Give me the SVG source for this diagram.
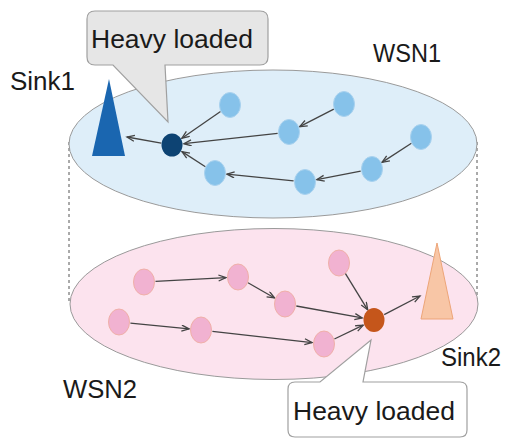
<svg xmlns="http://www.w3.org/2000/svg" width="507" height="439" viewBox="0 0 507 439">
<defs>
<marker id="arr" markerUnits="userSpaceOnUse" markerWidth="10" markerHeight="8" refX="8" refY="3.5" orient="auto">
<path d="M0.5,0.5 L8,3.5 L0.5,6.5" fill="none" stroke="#444" stroke-width="1.3"/>
</marker>
<style>
.lbl{font-family:"Liberation Sans",Arial,sans-serif;font-size:26px;fill:#1a1a1a}
.plane{stroke:#9a9a9a;stroke-width:1}
.dash{stroke:#555;stroke-width:1;stroke-dasharray:3,3;fill:none}
.b{fill:#86c2ea;stroke:#a9d2ef;stroke-width:1}
.p{fill:#f1b2d1;stroke:#f0b0a8;stroke-width:1}
.edge line{stroke:#444;stroke-width:1.3;marker-end:url(#arr)}
.call{stroke:#a0a0a0;stroke-width:1.2}
</style>
</defs>
<rect width="507" height="439" fill="#ffffff"/>
<g id="planes">
<line class="dash" x1="69" y1="142" x2="69" y2="304"/>
<line class="dash" x1="477" y1="142" x2="477" y2="304"/>
<ellipse id="wsn2-plane" class="plane" cx="274" cy="304" rx="204" ry="75.5" fill="#fce3ee"/>
<ellipse id="wsn1-plane" class="plane" cx="273" cy="144" rx="204" ry="74" fill="#deeef9"/>
</g>
<g id="callout1">
<path class="call" fill="#e6e6e6" d="M95,11 H260 Q268,11 268,19 V57 Q268,65 260,65 H165 L168,122 L113,65 H95 Q87,65 87,57 V19 Q87,11 95,11 Z"/>
<text class="lbl" x="91" y="48" font-size="28" textLength="162" lengthAdjust="spacingAndGlyphs">Heavy loaded</text>
</g>
<g id="callout2">
<path class="call" fill="#ffffff" d="M295,382 H320 L371,340 L363,382 H460 Q467,382 467,389 V430 Q467,437 460,437 H295 Q288,437 288,430 V389 Q288,382 295,382 Z"/>
<text class="lbl" x="293" y="420" font-size="28" textLength="162" lengthAdjust="spacingAndGlyphs">Heavy loaded</text>
</g>
<g id="connectors" class="edge">
<line x1="220.5" y1="111.5" x2="181.9" y2="138.2"/>
<line x1="333.8" y1="109.2" x2="299.7" y2="126.6"/>
<line x1="277.6" y1="133.3" x2="183.9" y2="143.7"/>
<line x1="411.4" y1="143.3" x2="382" y2="162.4"/>
<line x1="360.7" y1="171.2" x2="316.8" y2="179.7"/>
<line x1="293.6" y1="180.9" x2="226.9" y2="174.2"/>
<line x1="205.4" y1="166.7" x2="182" y2="151.6"/>
<line x1="161.2" y1="143.1" x2="127" y2="137"/>
<line x1="155.5" y1="281.4" x2="226" y2="277.6"/>
<line x1="248" y1="282.7" x2="274.6" y2="298"/>
<line x1="296.3" y1="306" x2="362.2" y2="317.9"/>
<line x1="345" y1="272.8" x2="367.7" y2="309.8"/>
<line x1="130.4" y1="323.1" x2="189.1" y2="328.8"/>
<line x1="212.4" y1="331.3" x2="312.1" y2="342.6"/>
<line x1="334.4" y1="339" x2="363.2" y2="325.2"/>
<line x1="384.2" y1="314.6" x2="420" y2="296"/>
</g>
<g id="sink1">
<polygon points="109,79 92,156 125,156" fill="#1a66b0"/>
<text class="lbl" x="10" y="90">Sink1</text>
</g>
<g id="sink2">
<polygon points="437,243 421,319 453,319" fill="#f8c6a6" stroke="#eda578" stroke-width="1"/>
<text class="lbl" x="441" y="366" textLength="60" lengthAdjust="spacingAndGlyphs">Sink2</text>
</g>
<g id="wsn1-label"><text class="lbl" x="373" y="62" textLength="68" lengthAdjust="spacingAndGlyphs">WSN1</text></g>
<g id="wsn2-label"><text class="lbl" x="63" y="398" textLength="74" lengthAdjust="spacingAndGlyphs">WSN2</text></g>
<g id="h1"><ellipse cx="172" cy="145" rx="10.5" ry="11.5" fill="#0d4373"/></g>
<g id="n-a"><ellipse class="b" cx="230" cy="105" rx="10.5" ry="12.5"/></g>
<g id="n-b"><ellipse class="b" cx="344" cy="104" rx="10.5" ry="12.5"/></g>
<g id="n-c"><ellipse class="b" cx="289" cy="132" rx="10.5" ry="12.5"/></g>
<g id="n-d"><ellipse class="b" cx="421" cy="137" rx="10.5" ry="12.5"/></g>
<g id="n-e"><ellipse class="b" cx="372" cy="169" rx="10.5" ry="12.5"/></g>
<g id="n-f"><ellipse class="b" cx="305" cy="182" rx="10.5" ry="12.5"/></g>
<g id="n-g"><ellipse class="b" cx="215" cy="173" rx="10.5" ry="12.5"/></g>
<g id="h2"><ellipse cx="374" cy="320" rx="10.5" ry="12" fill="#c5561b"/></g>
<g id="p1"><ellipse class="p" cx="144" cy="282" rx="10.5" ry="13"/></g>
<g id="p2"><ellipse class="p" cx="238" cy="277" rx="10.5" ry="13"/></g>
<g id="p3"><ellipse class="p" cx="285" cy="304" rx="10.5" ry="13"/></g>
<g id="p4"><ellipse class="p" cx="339" cy="263" rx="10.5" ry="13"/></g>
<g id="p5"><ellipse class="p" cx="119" cy="322" rx="10.5" ry="13"/></g>
<g id="p6"><ellipse class="p" cx="201" cy="330" rx="10.5" ry="13"/></g>
<g id="p7"><ellipse class="p" cx="324" cy="344" rx="10.5" ry="13"/></g>
</svg>
